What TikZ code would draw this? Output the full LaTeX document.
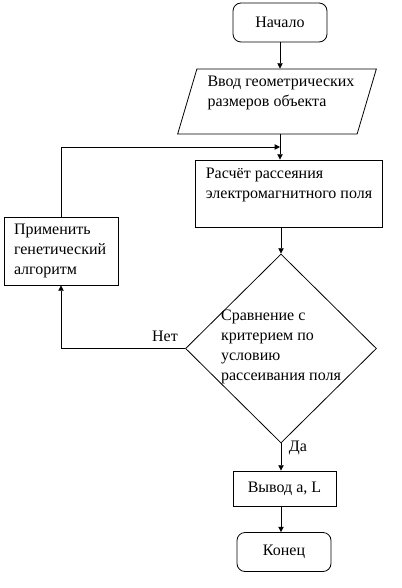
\documentclass[tikz,border=0pt]{standalone}
\usepackage{fontspec}
\setmainfont{Liberation Serif}
\usetikzlibrary{
  arrows.meta,
  positioning,
  shapes.geometric
}
\tikzset{
  txt/.style={font=\fontsize{12pt}{15pt}\selectfont},
  term/.style={txt,draw,line width=0.6pt,rounded corners=6pt,
    minimum width=70.5pt,minimum height=29.25pt,inner sep=0pt},
  io/.style={txt,draw,line width=0.6pt,trapezium,trapezium left angle=71,
    trapezium right angle=109,trapezium stretches,
    minimum width=148.5pt,minimum height=48.75pt,align=left,inner sep=2pt},
  proc/.style={txt,draw,line width=0.6pt,align=left,inner xsep=7.5pt},
  cond/.style={draw,line width=0.6pt,diamond,
    minimum width=143.25pt,minimum height=141.75pt,inner sep=0pt},
  flow/.style={-{Triangle[length=4pt,width=4pt]},line width=0.6pt},
  lab/.style={txt,inner sep=0pt,align=left}
}
\begin{document}
\begin{tikzpicture}[x=0.75pt,y=-0.75pt]
  \useasboundingbox (0,0) rectangle (401,588);
  \node[term] (start) at (280,22.5) {Начало};
  \node[io] (input) at (277,101.5) {\hspace*{6pt}Ввод геометрических\\\hspace*{6pt}размеров объекта\\\mbox{}};
  \coordinate (merge) at (280,147);
  \node[proc,minimum width=139.5pt,minimum height=50.25pt] (calc) at (289,193.5)
    {Расчёт рассеяния\\электромагнитного поля\\\mbox{}};
  \node[proc,text width=70.5pt,minimum height=51pt] (algo) at (61,251)
    {Применить\\генетический\\алгоритм};
  \node[cond] (cmp) at (281,348.5) {};
  \node[lab] (cmptext) at (281,347)
    {Сравнение с\\критерием по\\условию\\рассеивания поля};
  \node[proc,minimum width=77.25pt,minimum height=26.25pt] (out) at (284.5,488.5) {Вывод a, L};
  \node[term] (stop) at (284,552) {Конец};
  \node[lab] (no) at (165,336) {Нет};
  \node[lab] (yes) at (298,448) {Да};
  \draw[flow] (start.south) -- (start.south |- input.north);
  \draw[flow] (input.south -| merge) -- (calc.north -| merge);
  \draw[flow] (algo.north) |- (merge);
  \draw[flow] (calc.south -| cmp.north) -- (cmp.north);
  \draw[flow] (cmp.west) -| (algo.south);
  \draw[flow] (cmp.south) -- (cmp.south |- out.north);
  \draw[flow] (out.south -| cmp.south) -- (stop.north -| cmp.south);
\end{tikzpicture}
\end{document}
